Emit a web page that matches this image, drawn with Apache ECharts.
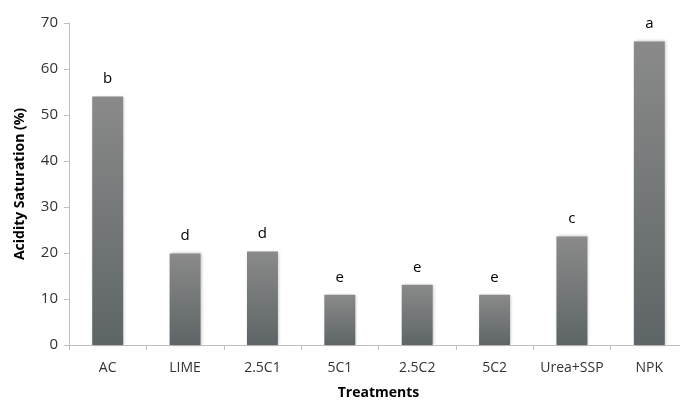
<!DOCTYPE html>
<html><head><meta charset="utf-8">
<script src="https://cdn.jsdelivr.net/npm/echarts@6/dist/echarts.min.js"></script>
<style>html,body{margin:0;padding:0;background:#fff}#c{width:680px;height:401px}</style>
</head><body><div id="c"></div>
<script>
var categories = ['AC','LIME','2.5C1','5C1','2.5C2','5C2','Urea+SSP','NPK'];
var values = [54.0, 19.9, 20.3, 10.9, 13.1, 10.9, 23.6, 66.0];
var letters = ['b','d','d','e','e','e','c','a'];
var yTicks = [0,10,20,30,40,50,60,70];

var font = '"Open Sans", "Liberation Sans", sans-serif';
var chart = echarts.init(document.getElementById('c'), null, {renderer:'canvas'});
chart.setOption({
  animation:false,
  grid:{left:69, right:-8, top:23, bottom:56, containLabel:false, outerBoundsMode:'none'},
  xAxis:{
    type:'category', data:categories,
    name:'Treatments', nameLocation:'middle', nameGap:41,
    nameTextStyle:{fontFamily:font, fontWeight:'bold', fontSize:14, color:'#000'},
    axisLine:{lineStyle:{color:'#bfbfbf'}},
    axisTick:{show:true, length:5, lineStyle:{color:'#bfbfbf'}},
    axisLabel:{interval:0, fontFamily:font, fontSize:14, color:'#333', margin:16}
  },
  yAxis:{
    type:'value', min:0, max:70, interval:10,
    name:'Acidity Saturation (%)', nameLocation:'middle', nameGap:42,
    nameTextStyle:{fontFamily:font, fontWeight:'bold', fontSize:14, color:'#000'},
    axisLine:{show:true, lineStyle:{color:'#bfbfbf'}},
    axisTick:{show:true, length:5, lineStyle:{color:'#bfbfbf'}},
    splitLine:{show:false},
    axisLabel:{fontFamily:font, fontSize:15, color:'#333', margin:11,
      formatter:function(v){return yTicks.indexOf(v)>=0 ? String(v) : '';}}
  },
  series:[{
    type:'bar', data:values, barCategoryGap:'60%',
    itemStyle:{
      color:new echarts.graphic.LinearGradient(0,0,0,1,[{offset:0,color:'#8a8a8a'},{offset:1,color:'#5e6566'}]),
      shadowColor:'rgba(0,0,0,0.25)', shadowBlur:3, shadowOffsetX:1, shadowOffsetY:0
    },
    label:{show:true, position:'top', distance:10, fontFamily:font, fontSize:15, color:'#000',
      formatter:function(p){return letters[p.dataIndex];}}
  }]
});
</script></body></html>
